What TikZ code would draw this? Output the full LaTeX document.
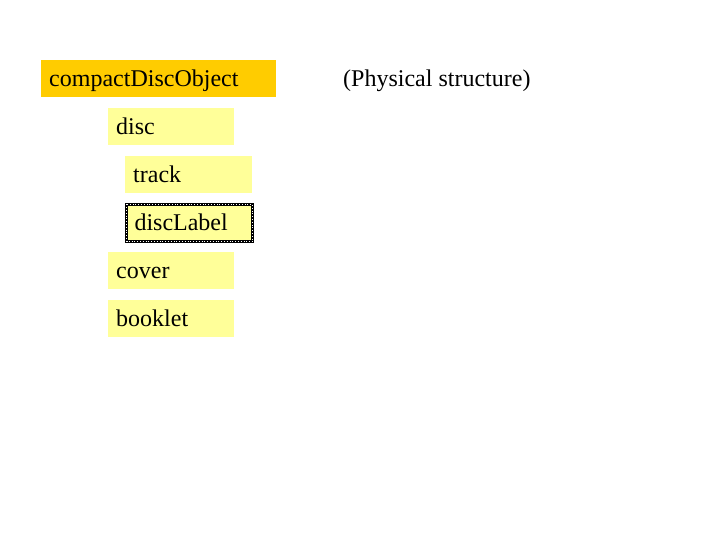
\documentclass[tikz,border=0pt]{standalone}
\usepackage{fontspec}
\setmainfont{Liberation Serif}
\definecolor{objgold}{HTML}{FFCC00}
\definecolor{partyellow}{HTML}{FFFF99}
\begin{document}
\begin{tikzpicture}[x=1pt,y=-1pt,
  part/.style={anchor=north west, fill=partyellow, inner xsep=8pt, inner ysep=0pt,
    minimum height=37pt, text height=18.5pt, text depth=3pt, align=left,
    font=\fontsize{24}{28}\selectfont}]
  % page of 720 x 540
  \useasboundingbox[fill=white] (0,0) rectangle (720,540);

  % the whole object
  \node[part, fill=objgold, text width=219pt] (cdobj) at (41,60) {compactDiscObject};

  % its parts, one under the other
  \node[part, text width=110pt] (disc) at (108,108) {disc};
  \node[part, text width=111pt] (track) at (125,156) {track};
  \node[part, text width=110pt, draw=black, line width=3pt, outer sep=0pt] (label) at (126.5,204.5) {discLabel};
  \draw[white, line width=0.8pt, dotted] (label.north west) rectangle (label.south east);
  \node[part, text width=110pt] (cover) at (108,252) {cover};
  \node[part, text width=110pt] (booklet) at (108,300) {booklet};

  % caption
  \node[anchor=base west, inner sep=0pt, font=\fontsize{24}{28}\selectfont] (caption) at (343,87) {(Physical structure)};
\end{tikzpicture}
\end{document}
